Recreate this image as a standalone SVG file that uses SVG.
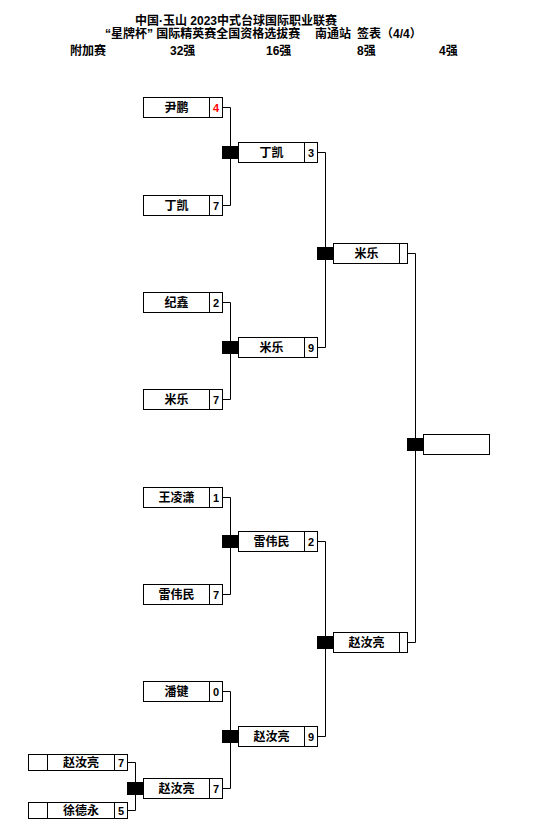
<svg xmlns="http://www.w3.org/2000/svg" width="552" height="834" viewBox="0 0 552 834">
<style>
text{font-family:"Liberation Sans","Noto Sans CJK SC",sans-serif;font-weight:bold;fill:#000}
.h{font-size:12px}
.n{font-size:12px;text-anchor:middle}
.s{font-size:11px;text-anchor:middle}
.box{fill:#fff;stroke:#000;stroke-width:1}
.dv{stroke:#000;stroke-width:1}
.blk{fill:#000}
.ln{fill:none;stroke:#000;stroke-width:1}
</style>
<rect width="552" height="834" fill="#fff"/>
<g id="header">
<text class="h" x="135" y="25">中国·玉山 2023中式台球国际职业联赛</text>
<text class="h" x="105" y="38">“星牌杯” 国际精英赛全国资格选拔赛</text>
<text class="h" x="315" y="38">南通站</text>
<text class="h" x="357" y="38">签表（4/4）</text>
<text class="h" x="70" y="55">附加赛</text>
<text class="h" x="170" y="55">32强</text>
<text class="h" x="266" y="55">16强</text>
<text class="h" x="357" y="55">8强</text>
<text class="h" x="439" y="55">4强</text>
</g>
<g id="connectors">
<path class="ln" d="M222.5 107.5H230.5V205.5H222.5"/>
<path class="ln" d="M222.5 302.5H230.5V399.5H222.5"/>
<path class="ln" d="M222.5 497.5H230.5V594.5H222.5"/>
<path class="ln" d="M222.5 691.5H230.5V788.5H222.5"/>
<path class="ln" d="M317.5 152.5H325.5V347.5H317.5"/>
<path class="ln" d="M317.5 541.5H325.5V736.5H317.5"/>
<path class="ln" d="M407.5 253.5H415.5V642.5H407.5"/>
<path class="ln" d="M127.5 762.5H135.5V810.5H127.5"/>
<rect class="blk" x="222" y="146" width="16" height="13"/>
<rect class="blk" x="222" y="341" width="16" height="13"/>
<rect class="blk" x="222" y="535" width="16" height="13"/>
<rect class="blk" x="222" y="730" width="16" height="13"/>
<rect class="blk" x="317" y="247" width="16" height="13"/>
<rect class="blk" x="317" y="636" width="16" height="13"/>
<rect class="blk" x="407" y="438" width="16" height="13"/>
<rect class="blk" x="127" y="782" width="16" height="13"/>
</g>
<g id="r1-1"><rect class="box" x="143.5" y="97.5" width="79" height="20"/><line class="dv" x1="209.5" y1="97.5" x2="209.5" y2="117.5"/><text class="n" x="176.5" y="112">尹鹏</text><text class="s" x="216" y="111.5" style="fill:#ff0000">4</text></g>
<g id="r1-2"><rect class="box" x="143.5" y="195.5" width="79" height="20"/><line class="dv" x1="209.5" y1="195.5" x2="209.5" y2="215.5"/><text class="n" x="176.5" y="210">丁凯</text><text class="s" x="216" y="209.5">7</text></g>
<g id="r1-3"><rect class="box" x="143.5" y="292.5" width="79" height="20"/><line class="dv" x1="209.5" y1="292.5" x2="209.5" y2="312.5"/><text class="n" x="176.5" y="307">纪鑫</text><text class="s" x="216" y="306.5">2</text></g>
<g id="r1-4"><rect class="box" x="143.5" y="389.5" width="79" height="20"/><line class="dv" x1="209.5" y1="389.5" x2="209.5" y2="409.5"/><text class="n" x="176.5" y="404">米乐</text><text class="s" x="216" y="403.5">7</text></g>
<g id="r1-5"><rect class="box" x="143.5" y="487.5" width="79" height="20"/><line class="dv" x1="209.5" y1="487.5" x2="209.5" y2="507.5"/><text class="n" x="176.5" y="502">王凌潇</text><text class="s" x="216" y="501.5">1</text></g>
<g id="r1-6"><rect class="box" x="143.5" y="584.5" width="79" height="20"/><line class="dv" x1="209.5" y1="584.5" x2="209.5" y2="604.5"/><text class="n" x="176.5" y="599">雷伟民</text><text class="s" x="216" y="598.5">7</text></g>
<g id="r1-7"><rect class="box" x="143.5" y="681.5" width="79" height="20"/><line class="dv" x1="209.5" y1="681.5" x2="209.5" y2="701.5"/><text class="n" x="176.5" y="696">潘键</text><text class="s" x="216" y="695.5">0</text></g>
<g id="r1-8"><rect class="box" x="143.5" y="778.5" width="79" height="20"/><line class="dv" x1="209.5" y1="778.5" x2="209.5" y2="798.5"/><text class="n" x="176.5" y="793">赵汝亮</text><text class="s" x="216" y="792.5">7</text></g>
<g id="r2-1"><rect class="box" x="238.5" y="142.5" width="79" height="20"/><line class="dv" x1="304.5" y1="142.5" x2="304.5" y2="162.5"/><text class="n" x="271.5" y="157">丁凯</text><text class="s" x="311" y="156.5">3</text></g>
<g id="r2-2"><rect class="box" x="238.5" y="337.5" width="79" height="20"/><line class="dv" x1="304.5" y1="337.5" x2="304.5" y2="357.5"/><text class="n" x="271.5" y="352">米乐</text><text class="s" x="311" y="351.5">9</text></g>
<g id="r2-3"><rect class="box" x="238.5" y="531.5" width="79" height="20"/><line class="dv" x1="304.5" y1="531.5" x2="304.5" y2="551.5"/><text class="n" x="271.5" y="546">雷伟民</text><text class="s" x="311" y="545.5">2</text></g>
<g id="r2-4"><rect class="box" x="238.5" y="726.5" width="79" height="20"/><line class="dv" x1="304.5" y1="726.5" x2="304.5" y2="746.5"/><text class="n" x="271.5" y="741">赵汝亮</text><text class="s" x="311" y="740.5">9</text></g>
<g id="r3-1"><rect class="box" x="333.5" y="243.5" width="74" height="20"/><line class="dv" x1="399.5" y1="243.5" x2="399.5" y2="263.5"/><text class="n" x="366.5" y="258">米乐</text></g>
<g id="r3-2"><rect class="box" x="333.5" y="632.5" width="74" height="20"/><line class="dv" x1="399.5" y1="632.5" x2="399.5" y2="652.5"/><text class="n" x="366.5" y="647">赵汝亮</text></g>
<g id="final"><rect class="box" x="423.5" y="434.5" width="66" height="20"/></g>
<g id="q-1"><rect class="box" x="28.5" y="754.5" width="99" height="16"/><line class="dv" x1="47.5" y1="754.5" x2="47.5" y2="770.5"/><line class="dv" x1="114.5" y1="754.5" x2="114.5" y2="770.5"/><text class="n" x="81" y="767">赵汝亮</text><text class="s" x="121" y="766.5">7</text></g>
<g id="q-2"><rect class="box" x="28.5" y="802.5" width="99" height="16"/><line class="dv" x1="47.5" y1="802.5" x2="47.5" y2="818.5"/><line class="dv" x1="114.5" y1="802.5" x2="114.5" y2="818.5"/><text class="n" x="81" y="815">徐德永</text><text class="s" x="121" y="814.5">5</text></g>
</svg>
